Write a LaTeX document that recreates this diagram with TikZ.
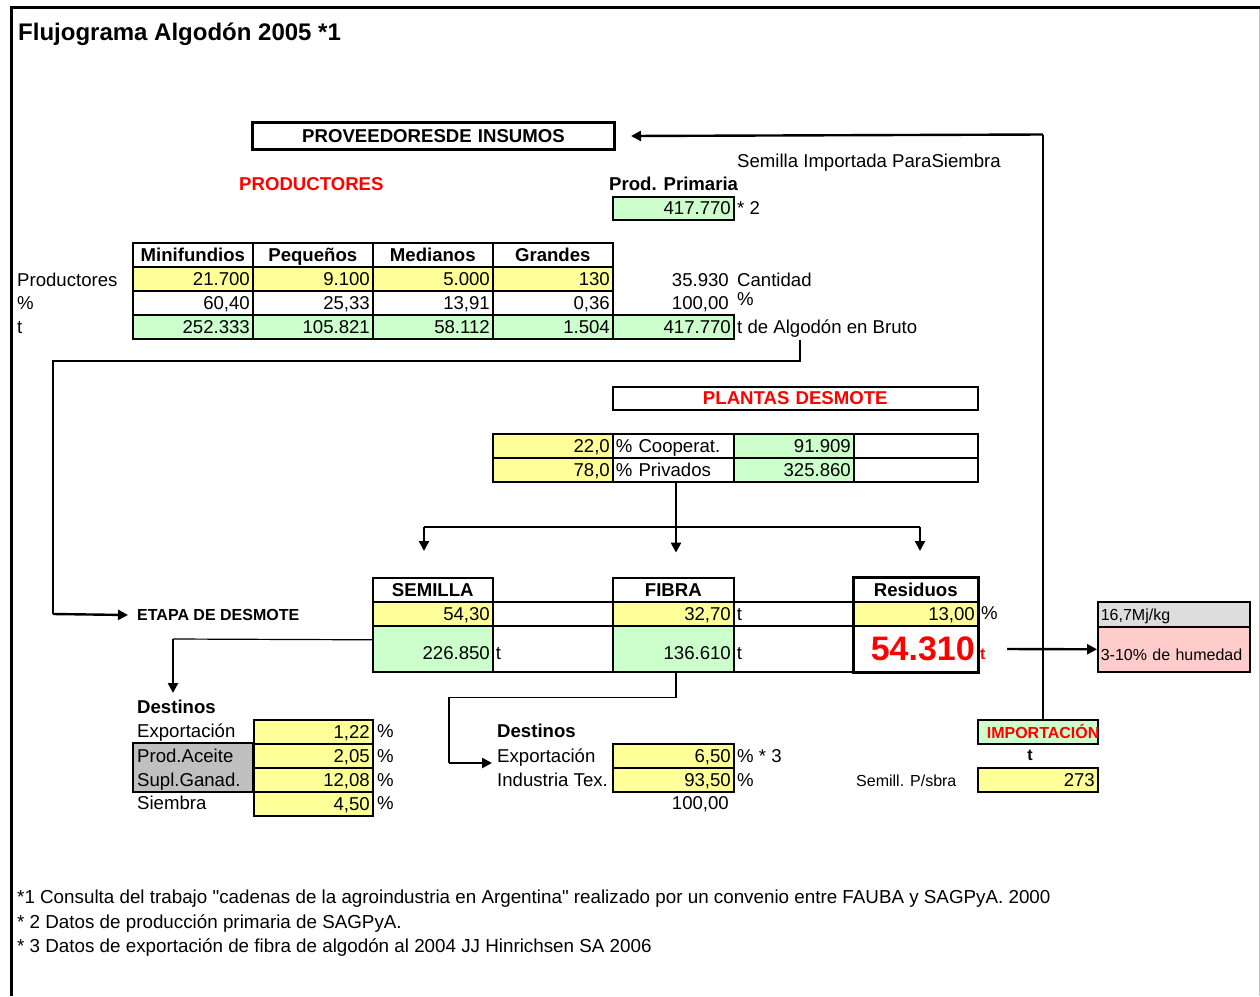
\documentclass[tikz,border=0pt]{standalone}
\usepackage{fontspec}
\setmainfont{Liberation Sans}[Ligatures=TeXOff]
\usetikzlibrary{arrows.meta}
\definecolor{amarillo}{RGB}{255,255,153}
\definecolor{verde}{RGB}{204,255,204}
\definecolor{rosa}{RGB}{255,204,204}
\definecolor{gris}{RGB}{192,192,192}
\definecolor{grisclaro}{RGB}{221,221,221}
\definecolor{rojo}{RGB}{255,0,0}
\newcommand{\tamano}{\fontsize{18.6}{21}\selectfont}
\newcommand{\chico}{\fontsize{16}{18}\selectfont}

\begin{document}
\begin{tikzpicture}[x=1pt,y=-1pt,font=\tamano,
    >={Triangle[length=10pt,width=10pt]},
    celda/.style={draw,line width=1.6pt,anchor=north west,inner sep=0pt,
      minimum width=120pt,text width=114pt,minimum height=24pt,
      text height=13pt,text depth=0pt,align=right},
    ancho/.style={minimum width=#1,text width=#1-6pt},
    amar/.style={celda,fill=amarillo},
    verd/.style={celda,fill=verde},
    blanca/.style={celda,fill=white},
    cab/.style={celda,align=center,font=\tamano\bfseries},
    alta/.style={minimum height=46pt,text height=22pt},
    texto/.style={anchor=base west,inner sep=0pt},
    linea/.style={line width=1.2pt},
    flecha/.style={line width=2.4pt,->}]
        \useasboundingbox (0,0) rectangle (1260,996);
        % marco
        \draw[line width=3.5pt] (11.5,996) -- (11.5,7.5) -- (1260,7.5);
        \draw[gray!50,line width=1pt] (1259,9) -- (1259,996);
        \node[texto,font=\fontsize{24}{27}\selectfont\bfseries] (titulo) at (18,40) {Flujograma Algodón 2005 *1};

        % productores
        \node[celda,ancho=362pt,minimum height=27pt,line width=3pt,align=center,font=\tamano\bfseries] (prov) at (251,121) {PROVEEDORESDE INSUMOS};
        \node[texto] (semimp) at (737,167) {Semilla Importada ParaSiembra};
        \node[texto,text=rojo,font=\tamano\bfseries] (productores) at (239,190) {PRODUCTORES};
        \node[texto,font=\tamano\bfseries] (primaria) at (609,190) {Prod. Primaria};
        \node[verd,ancho=121pt,minimum height=23pt] (prodprim) at (612,196) {417.770};
        \node[texto] (nota2) at (737,214) {* 2};

        \node[cab] (mini) at (132,242) {Minifundios};
        \node[cab] (peq) at (252,242) {Pequeños};
        \node[cab] (med) at (372,242) {Medianos};
        \node[cab] (gra) at (492,242) {Grandes};
        \node[amar] (mini1) at (132,266) {21.700};
        \node[amar] (peq1) at (252,266) {9.100};
        \node[amar] (med1) at (372,266) {5.000};
        \node[amar] (gra1) at (492,266) {130};
        \node[blanca] (mini2) at (132,290) {60,40};
        \node[blanca] (peq2) at (252,290) {25,33};
        \node[blanca] (med2) at (372,290) {13,91};
        \node[blanca] (gra2) at (492,290) {0,36};
        \node[verd] (mini3) at (132,314) {252.333};
        \node[verd] (peq3) at (252,314) {105.821};
        \node[verd] (med3) at (372,314) {58.112};
        \node[verd] (gra3) at (492,314) {1.504};
        \node[verd,ancho=121pt] (total3) at (612,314) {417.770};
        \node[texto] (fila1) at (17,286) {Productores};
        \node[texto] (fila2) at (17,309) {\%};
        \node[texto] (fila3) at (17,333) {t};
        \node[anchor=base east,inner sep=0pt] (total1) at (729,286) {35.930};
        \node[anchor=base east,inner sep=0pt] (total2) at (729,309) {100,00};
        \node[texto] (cant) at (737,286) {Cantidad};
        \node[texto] (porc) at (737,305) {\%};
        \node[texto] (bruto) at (737,333) {t de Algodón en Bruto};

        \coordinate (baja) at (800,340);
        \coordinate (codo1) at (53,614);
        \node[anchor=west,inner sep=0pt,font=\chico\bfseries] (etapa) at (137,615) {ETAPA DE DESMOTE};
        \draw[linea] (baja) -- (800,361) -| (codo1);
        \draw[flecha] (codo1) -- ([xshift=-9pt]etapa.west);

        % plantas desmote
        \node[blanca,ancho=365pt,minimum height=23pt,align=center,text=rojo,font=\tamano\bfseries] (plantas) at (612,386) {PLANTAS DESMOTE};
        \node[amar] (coop1) at (492,433) {22,0};
        \node[blanca,ancho=121pt,align=left] (coop2) at (612,433) {\% Cooperat.};
        \node[verd] (coop3) at (733,433) {91.909};
        \node[blanca,ancho=124pt] (coop4) at (853,433) {};
        \node[amar] (priv1) at (492,457) {78,0};
        \node[blanca,ancho=121pt,align=left] (priv2) at (612,457) {\% Privados};
        \node[verd] (priv3) at (733,457) {325.860};
        \node[blanca,ancho=124pt] (priv4) at (853,457) {};

        \coordinate (rep) at (676,527);
        \coordinate (izq) at (424,527);
        \coordinate (der) at (920,527);
        \draw[flecha] (priv2.south -| rep) -- ++(0,70);
        \draw[linea] (izq) -- (der);
        \draw[flecha] (izq) -- ++(0,24);
        \draw[flecha] (der) -- ++(0,24);

        % etapa de desmote
        \node[cab] (sem) at (372,577) {SEMILLA};
        \node[cab,ancho=121pt] (fib) at (612,577) {FIBRA};
        \node[cab,ancho=124pt] (res) at (853,577) {Residuos};
        \node[amar] (semA) at (372,601) {54,30};
        \node[blanca] (vacA) at (492,601) {};
        \node[amar,ancho=121pt] (fibA) at (612,601) {32,70};
        \node[blanca,align=left] (fibtA) at (733,601) {t};
        \node[amar,ancho=124pt] (resA) at (853,601) {13,00};
        \node[verd,alta] (semB) at (372,625) {226.850};
        \node[blanca,alta,align=left] (semtB) at (492,625) {t};
        \node[verd,alta,ancho=121pt] (fibB) at (612,625) {136.610};
        \node[blanca,alta,align=left] (fibtB) at (733,625) {t};
        \node[blanca,alta,ancho=124pt,text=rojo,font=\fontsize{34}{38}\selectfont\bfseries,text height=24pt] (resB) at (853,625) {54.310};
        \draw[line width=3pt] (res.north west) rectangle (resB.south east);
        \node[texto] (resporc) at (981,619) {\%};
        \node[texto,text=rojo,font=\chico\bfseries] (rest) at (980,659) {t};

        \node[celda,ancho=152pt,minimum height=25pt,fill=grisclaro,align=left,font=\chico] (calor1) at (1097,601) {16,7Mj/kg};
        \node[celda,alta,ancho=152pt,minimum height=45pt,fill=rosa,align=left,font=\chico] (calor2) at (1097,626) {3-10\% de humedad};
        \coordinate (salres) at (1007,649);
        \draw[flecha] (salres) -- (calor2.west);

        % destinos semilla
        \coordinate (codo2) at (173,639);
        \draw[linea] ([yshift=9pt]semB.west) -- (codo2);
        \draw[flecha] (codo2) -- ++(0,54);
        \node[texto,font=\tamano\bfseries] (dest1) at (137,713) {Destinos};
        \node[celda,minimum height=49pt,fill=gris] (grisbox) at (132,742) {};
        \node[texto] (exps) at (137,737) {Exportación};
        \node[texto] (aceite) at (137,762) {Prod.Aceite};
        \node[texto] (ganad) at (137,786) {Supl.Ganad.};
        \node[texto] (siembra) at (137,809) {Siembra};
        \node[amar,ancho=119pt] (ds1) at (253,719) {1,22};
        \node[amar,ancho=119pt] (ds2) at (253,743) {2,05};
        \node[amar,ancho=119pt] (ds3) at (253,767) {12,08};
        \node[amar,ancho=119pt] (ds4) at (253,791) {4,50};
        \node[texto] (ps1) at (377,737) {\%};
        \node[texto] (ps2) at (377,762) {\%};
        \node[texto] (ps3) at (377,786) {\%};
        \node[texto] (ps4) at (377,809) {\%};

        % destinos fibra
        \coordinate (codo3) at (449,763);
        \draw[linea] (fibB.south -| rep) -- ++(0,25) -| (codo3);
        \draw[flecha] (codo3) -- ++(43,0);
        \node[texto,font=\tamano\bfseries] (dest2) at (497,737) {Destinos};
        \node[texto] (expf) at (497,762) {Exportación};
        \node[texto] (indtex) at (497,786) {Industria Tex.};
        \node[amar,ancho=121pt] (df1) at (612,743) {6,50};
        \node[amar,ancho=121pt] (df2) at (612,767) {93,50};
        \node[texto] (pf1) at (737,762) {\% * 3};
        \node[texto] (pf2) at (737,786) {\%};
        \node[anchor=base east,inner sep=0pt] (sumaf) at (729,809) {100,00};

        % importacion
        \node[verd,text width=102pt,align=left,text=rojo,font=\chico\bfseries] (impo) at (977,719) {IMPORTACIÓN};
        \node[anchor=base,inner sep=0pt,font=\chico\bfseries] (impot) at (1030,760) {t};
        \node[texto,font=\chico] (semill) at (856,786) {Semill. P/sbra};
        \node[amar] (imp273) at (977,767) {273};
        \coordinate (sube) at (1043,134.5);
        \draw[linea] (impo.north -| sube) -- (sube);
        \draw[flecha] (sube) -- ([xshift=15pt]prov.east);

        % notas
        \node[texto,font=\fontsize{18.8}{21}\selectfont] (nota1) at (17,903) {*1 Consulta del trabajo "cadenas de la agroindustria en Argentina" realizado por un convenio entre FAUBA y SAGPyA. 2000};
        \node[texto,font=\fontsize{18.8}{21}\selectfont] (notab) at (17,928) {* 2 Datos de producción primaria de SAGPyA.};
        \node[texto,font=\fontsize{18.8}{21}\selectfont] (notac) at (17,952) {* 3 Datos de exportación de fibra de algodón al 2004 JJ Hinrichsen SA 2006};
\end{tikzpicture}
\end{document}
